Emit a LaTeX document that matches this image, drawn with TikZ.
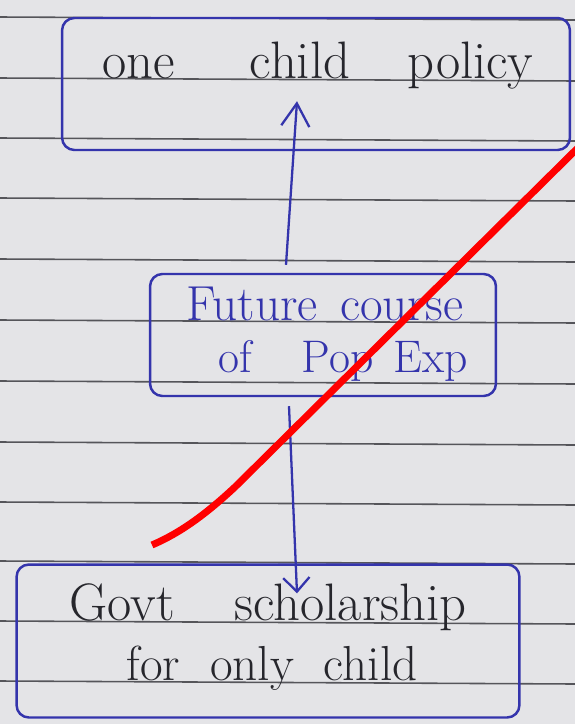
\documentclass[tikz,border=0pt]{standalone}
\usepackage{tikz}
\usetikzlibrary{arrows.meta,calc}
\definecolor{paper}{RGB}{228,228,231}
\definecolor{rule}{RGB}{85,85,90}
\definecolor{ink}{RGB}{52,52,172}
\definecolor{pencil}{RGB}{38,38,44}
\definecolor{crossred}{RGB}{255,0,0}

\begin{document}
\begin{tikzpicture}[x=0.02cm,y=-0.02cm,
  ruled/.style={draw=rule,line width=0.9pt},
  box/.style={draw=ink,line width=1.4pt,rounded corners=7pt,inner sep=0pt},
  words/.style={inner sep=0pt,anchor=base,font=\fontsize{28}{34}\selectfont},
  link/.style={draw=ink,line width=1.3pt},
  cross/.style={draw=crossred,line width=4pt}]

\path[use as bounding box,fill=paper] (0,0) rectangle (575,724);

% ruled paper
\foreach \ly in {17,78,138,198,259,320,381,442,502,561,621,681}
  \draw[ruled] (0,\ly) -- (575,\ly+3);

% boxes
\node[box,minimum width=10.16cm,minimum height=2.64cm] (topbox) at (316,84) {};
\node[box,minimum width=6.92cm,minimum height=2.44cm] (midbox) at (323,335) {};
\node[box,minimum width=10.06cm,minimum height=3.06cm] (botbox) at (268,641) {};

% texts
\node[words,text=pencil,font=\fontsize{30}{36}\selectfont] (policy) at (318,78) {one\hspace{1.5cm}child\hspace{1.15cm}policy};
\node[words,text=ink] (future) at (325,320) {Future\hspace{0.45cm}course};
\node[words,text=ink,font=\fontsize{26}{31}\selectfont] (popexp) at (343,372) {of\hspace{1cm}Pop\hspace{0.4cm}Exp};
\node[words,text=pencil,font=\fontsize{30}{36}\selectfont] (scholar) at (268,620) {Govt\hspace{1.2cm}scholarship};
\node[words,text=pencil] (onlych) at (272,680) {for\hspace{0.6cm}only\hspace{0.6cm}child};

% arrows
\draw[link,-{Straight Barb[length=13pt,width=16pt]}] ($(midbox.north)+(-37,-8)$) -- ($(topbox.south)+(-19,-50)$);
\draw[link,-{Straight Barb[length=8pt,width=15pt]}] ($(midbox.south)+(-34,9)$) -- ($(botbox.north)+(29,30)$);

% crossing out
\draw[cross] (152,545) .. controls (180,533) and (205,515) .. (235,487) -- (600,126);
\end{tikzpicture}
\end{document}
